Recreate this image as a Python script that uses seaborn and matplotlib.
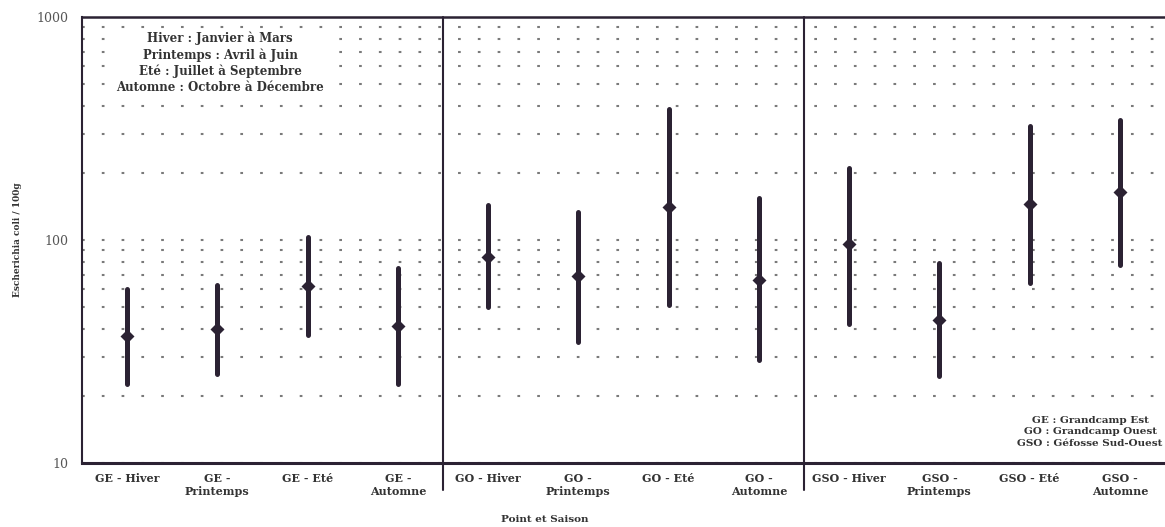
import numpy as np
import pandas as pd
import seaborn as sns
import matplotlib
import matplotlib.pyplot as plt
from matplotlib.ticker import LogLocator, NullFormatter

matplotlib.use('Agg')

# Data (E. coli / 100g, min - mean - max)
categories = ['GE - Hiver', 'GE - Printemps', 'GE - Eté', 'GE - Automne',
              'GO - Hiver', 'GO - Printemps', 'GO - Eté', 'GO - Automne',
              'GSO - Hiver', 'GSO - Printemps', 'GSO - Eté', 'GSO - Automne']
tick_labels = ['GE - Hiver', 'GE -\nPrintemps', 'GE - Eté', 'GE -\nAutomne',
               'GO - Hiver', 'GO -\nPrintemps', 'GO - Eté', 'GO -\nAutomne',
               'GSO - Hiver', 'GSO -\nPrintemps', 'GSO - Eté', 'GSO -\nAutomne']
low = [22.5, 25, 37.5, 22.5, 50, 35, 51, 29, 42, 24.5, 64, 77]
mean = [37, 40, 62, 41, 84, 69, 140, 66, 96, 44, 145, 165]
high = [60, 63, 103, 75, 143, 133, 385, 155, 210, 79, 325, 345]

season_note = ('Hiver : Janvier à Mars\nPrintemps : Avril à Juin\n'
               'Eté : Juillet à Septembre\nAutomne : Octobre à Décembre')
site_note = 'GE : Grandcamp Est\nGO : Grandcamp Ouest\nGSO : Géfosse Sud-Ouest'

# long table: three values per category, median -> mean, min/max -> whiskers
df = pd.DataFrame({
    'cat': np.repeat(categories, 3),
    'val': np.column_stack([low, mean, high]).ravel(),
})

ink = '#2b2233'
text_col = '#333333'

sns.set_style('white')
plt.rcParams['font.family'] = ['DejaVu Serif']

W, H = 1165, 527
fig = plt.figure(figsize=(W / 100, H / 100), dpi=100)
ax = fig.add_axes([82 / W, 64 / H, (W - 82) / W, 446 / H])

sns.pointplot(data=df, x='cat', y='val', order=categories,
              estimator='median', errorbar=lambda v: (v.min(), v.max()),
              linestyle='none', marker='D', markersize=5, color=ink,
              err_kws={'linewidth': 3.6, 'color': ink},
              log_scale=True, ax=ax)

ax.set_xlim(-0.5, 11.5)
ax.set_ylim(10, 1000)

# y axis
ax.set_yticks([10, 100, 1000], labels=['10', '100', '1000'])
ax.yaxis.set_minor_locator(LogLocator(base=10, subs=np.arange(2, 10)))
ax.yaxis.set_minor_formatter(NullFormatter())
ax.tick_params(axis='y', which='major', direction='inout', length=7,
               width=1.2, color=ink, labelsize=9, labelcolor='#555555', pad=6)
ax.tick_params(axis='y', which='minor', direction='in', length=3,
               width=1, color=ink)

# x axis: labels centred, tick marks between categories
ax.set_xticks(range(len(categories)), labels=tick_labels)
ax.set_xticks(np.arange(0.5, 11, 1), minor=True)
ax.tick_params(axis='x', which='major', length=0, pad=7,
               labelsize=8, labelcolor=text_col)
ax.tick_params(axis='x', which='minor', direction='inout', length=6,
               width=1, color=ink)
for lab in ax.get_xticklabels():
    lab.set_fontweight('bold')
    lab.set_linespacing(1.2)
    lab.set_va('top')

ax.set_xlabel('')
ax.set_ylabel('')

# dotted grid
ax.grid(False)
ax.grid(True, which='both', axis='y', color='#7a7a7a',
        linestyle=(0, (1.3, 8.2)), linewidth=1.5)
ax.set_axisbelow(True)

for side in ['left', 'bottom', 'top']:
    ax.spines[side].set_color(ink)
ax.spines['left'].set_linewidth(1.5)
ax.spines['top'].set_linewidth(1.8)
ax.spines['bottom'].set_linewidth(2.2)
ax.spines['right'].set_visible(False)

# group separators reaching down into the label area
for xs in [3.5, 7.5]:
    ax.axvline(xs, ymin=-0.06, ymax=1, color=ink, linewidth=1.5, clip_on=False)

# annotation boxes
fig.text(220 / W, 1 - 63 / H, season_note, ha='center', va='center',
         multialignment='center', fontsize=8.5, fontweight='bold',
         color=text_col, linespacing=1.3,
         bbox=dict(facecolor='white', edgecolor='none', pad=2))
fig.text(1090 / W, 1 - 432 / H, site_note, ha='center', va='center',
         multialignment='center', fontsize=7.5, fontweight='bold',
         color=text_col, linespacing=1.35,
         bbox=dict(facecolor='white', edgecolor='none', pad=2))

fig.text(18 / W, 1 - 240 / H, 'Escherichia coli / 100g', rotation=90,
         ha='center', va='center', fontsize=6.5, fontweight='bold', color=text_col)
fig.text(545 / W, 1 - 519 / H, 'Point et Saison', ha='center', va='center',
         fontsize=7.5, fontweight='bold', color=text_col)

fig.savefig('out.png', dpi=100, facecolor='white')
plt.close(fig)
